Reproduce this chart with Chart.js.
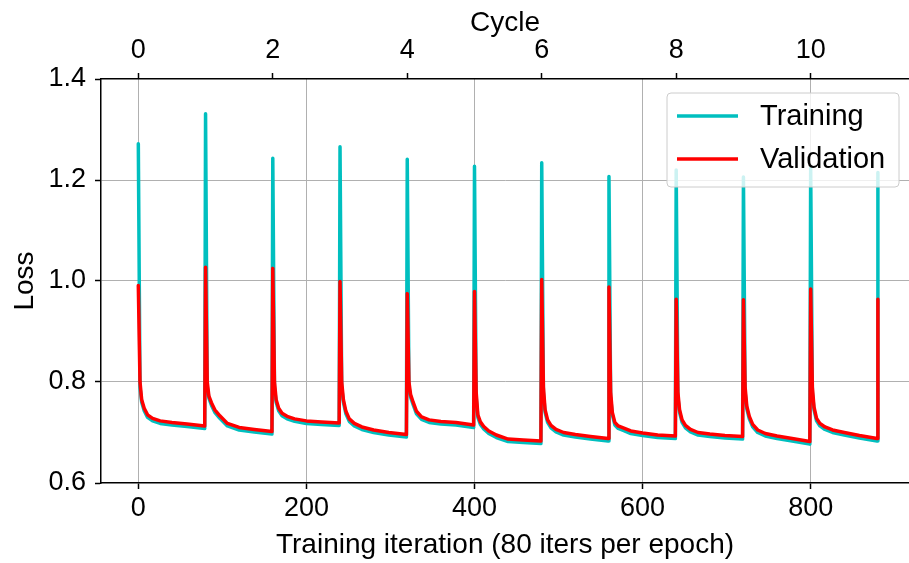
<!DOCTYPE html>
<html>
<head>
<meta charset="utf-8">
<script src="https://cdn.jsdelivr.net/npm/chart.js@4/dist/chart.umd.min.js"></script>
<style>
html,body{margin:0;padding:0;overflow:hidden;background:#fff;}
canvas{display:block;}
</style>
</head>
<body>
<canvas id="c" width="909" height="563"></canvas>
<script>
// ---- data ----
const cycleStarts = [0, 80, 160, 240, 320, 400, 480, 560, 640, 720, 800, 880];
const sampleOffsets = [0, 2, 4, 7, 11, 17, 26, 40, 58, 79];

const trainingByCycle = [
  [1.272, 0.79, 0.760, 0.743, 0.730, 0.723, 0.718, 0.715, 0.712, 0.708],
  [1.331, 0.79, 0.768, 0.754, 0.740, 0.728, 0.713, 0.705, 0.701, 0.697],
  [1.243, 0.79, 0.760, 0.743, 0.733, 0.727, 0.722, 0.718, 0.716, 0.714],
  [1.266, 0.79, 0.760, 0.737, 0.722, 0.713, 0.706, 0.700, 0.695, 0.691],
  [1.241, 0.79, 0.770, 0.755, 0.737, 0.726, 0.720, 0.717, 0.715, 0.710],
  [1.227, 0.77, 0.730, 0.716, 0.707, 0.698, 0.690, 0.682, 0.680, 0.678],
  [1.234, 0.78, 0.740, 0.720, 0.709, 0.701, 0.695, 0.691, 0.687, 0.683],
  [1.207, 0.77, 0.735, 0.715, 0.708, 0.704, 0.698, 0.694, 0.690, 0.688],
  [1.220, 0.77, 0.740, 0.720, 0.709, 0.701, 0.695, 0.692, 0.689, 0.687],
  [1.206, 0.78, 0.747, 0.727, 0.711, 0.700, 0.693, 0.688, 0.683, 0.677],
  [1.224, 0.78, 0.745, 0.723, 0.713, 0.706, 0.700, 0.695, 0.689, 0.683],
  [1.215]
];

const validationByCycle = [
  [0.991, 0.80, 0.765, 0.748, 0.735, 0.728, 0.723, 0.720, 0.717, 0.713],
  [1.027, 0.80, 0.772, 0.759, 0.745, 0.733, 0.718, 0.710, 0.706, 0.702],
  [1.025, 0.80, 0.765, 0.748, 0.738, 0.732, 0.727, 0.723, 0.721, 0.719],
  [0.999, 0.80, 0.765, 0.742, 0.727, 0.718, 0.711, 0.705, 0.700, 0.696],
  [0.975, 0.80, 0.775, 0.760, 0.742, 0.731, 0.725, 0.722, 0.720, 0.715],
  [0.979, 0.78, 0.735, 0.721, 0.712, 0.703, 0.695, 0.687, 0.685, 0.683],
  [1.003, 0.79, 0.745, 0.725, 0.714, 0.706, 0.700, 0.696, 0.692, 0.688],
  [0.988, 0.78, 0.740, 0.720, 0.713, 0.709, 0.703, 0.699, 0.695, 0.693],
  [0.964, 0.78, 0.745, 0.725, 0.714, 0.706, 0.700, 0.697, 0.694, 0.692],
  [0.963, 0.79, 0.752, 0.732, 0.716, 0.705, 0.698, 0.693, 0.688, 0.682],
  [0.984, 0.79, 0.750, 0.728, 0.718, 0.711, 0.705, 0.700, 0.694, 0.688],
  [0.964]
];

const iterationTicks = [0, 200, 400, 600, 800];
const cycleTicks = [0, 2, 4, 6, 8, 10];
const lossTicks = [0.6, 0.8, 1.0, 1.2, 1.4];
const seriesLabels = ['Training', 'Validation'];
const itersPerCycle = 80;

// ---- build point lists ----
function toPoints(byCycle) {
  const pts = [];
  byCycle.forEach((vals, c) => {
    vals.forEach((v, i) => pts.push({ x: cycleStarts[c] + sampleOffsets[i], y: v }));
  });
  return pts;
}

const FONT = "'Liberation Sans', Arial, Helvetica, sans-serif";
const X_MIN = -44.4, X_MAX = 917;

const boxLegend = {
  id: 'boxLegend',
  afterDraw(chart) {
    const ctx = chart.ctx;
    const bx = 667, by = 93, bw = 232, bh = 94, r = 4;
    ctx.save();
    ctx.beginPath();
    ctx.moveTo(bx + r, by);
    ctx.lineTo(bx + bw - r, by);
    ctx.arcTo(bx + bw, by, bx + bw, by + r, r);
    ctx.lineTo(bx + bw, by + bh - r);
    ctx.arcTo(bx + bw, by + bh, bx + bw - r, by + bh, r);
    ctx.lineTo(bx + r, by + bh);
    ctx.arcTo(bx, by + bh, bx, by + bh - r, r);
    ctx.lineTo(bx, by + r);
    ctx.arcTo(bx, by, bx + r, by, r);
    ctx.closePath();
    ctx.fillStyle = 'rgba(255,255,255,0.8)';
    ctx.fill();
    ctx.strokeStyle = '#cccccc';
    ctx.lineWidth = 1;
    ctx.stroke();
    const rows = [116, 159];
    chart.data.datasets.forEach((ds, i) => {
      const y = rows[i];
      ctx.beginPath();
      ctx.moveTo(677, y);
      ctx.lineTo(738, y);
      ctx.strokeStyle = ds.borderColor;
      ctx.lineWidth = 3.5;
      ctx.stroke();
      ctx.fillStyle = '#000';
      ctx.font = '29px ' + FONT;
      ctx.textBaseline = 'middle';
      ctx.textAlign = 'left';
      ctx.fillText(ds.label, 760, y + 1);
    });
    ctx.restore();
  }
};

new Chart(document.getElementById('c'), {
  type: 'line',
  data: {
    datasets: [
      {
        label: seriesLabels[0],
        data: toPoints(trainingByCycle),
        borderColor: '#00bfbf',
        borderWidth: 3.5,
        pointRadius: 0,
        tension: 0,
        borderJoinStyle: 'round',
        borderCapStyle: 'round',
        order: 2,
        xAxisID: 'x', yAxisID: 'y'
      },
      {
        label: seriesLabels[1],
        data: toPoints(validationByCycle),
        borderColor: '#ff0000',
        borderWidth: 3.5,
        pointRadius: 0,
        tension: 0,
        borderJoinStyle: 'round',
        borderCapStyle: 'round',
        order: 1,
        xAxisID: 'x', yAxisID: 'y'
      }
    ]
  },
  options: {
    responsive: false,
    animation: false,
    devicePixelRatio: 1,
    layout: { padding: 0 },
    plugins: { legend: { display: false }, tooltip: { enabled: false } },
    scales: {
      x: {
        type: 'linear', position: 'bottom', min: X_MIN, max: X_MAX,
        afterBuildTicks: s => { s.ticks = iterationTicks.map(v => ({ value: v })); },
        afterFit: s => { s.height = 80; },
        grid: { color: '#b0b0b0', lineWidth: 1, tickColor: '#000', tickLength: 6, tickWidth: 1.5 },
        border: { color: '#000', width: 1.5 },
        ticks: { color: '#000', font: { family: FONT, size: 27 }, padding: 3, maxRotation: 0, autoSkip: false,
                 callback: v => String(v) },
        title: { display: true, text: 'Training iteration (80 iters per epoch)', color: '#000',
                 font: { family: FONT, size: 28 }, padding: { top: 0, bottom: 1 } }
      },
      x2: {
        type: 'linear', position: 'top', min: X_MIN / itersPerCycle, max: X_MAX / itersPerCycle,
        afterBuildTicks: s => { s.ticks = cycleTicks.map(v => ({ value: v })); },
        afterFit: s => { s.height = 79; },
        grid: { drawOnChartArea: false, tickColor: '#000', tickLength: 6, tickWidth: 1.5 },
        border: { color: '#000', width: 1.5 },
        ticks: { color: '#000', font: { family: FONT, size: 27 }, padding: 6, maxRotation: 0, autoSkip: false,
                 callback: v => String(v) },
        title: { display: true, text: 'Cycle', color: '#000',
                 font: { family: FONT, size: 28 }, padding: { top: 6, bottom: 0 } }
      },
      y: {
        type: 'linear', position: 'left', min: 0.6, max: 1.4,
        afterBuildTicks: s => { s.ticks = lossTicks.map(v => ({ value: v })); },
        afterFit: s => { s.width = 101; },
        grid: {
          color: c => (c.index === 0 || c.index === lossTicks.length - 1) ? 'rgba(0,0,0,0)' : '#b0b0b0',
          lineWidth: 1, tickColor: '#000', tickLength: 6, tickWidth: 1.5
        },
        border: { color: '#000', width: 1.5 },
        ticks: { color: '#000', font: { family: FONT, size: 27 }, padding: 9, autoSkip: false,
                 callback: v => Number(v).toFixed(1) },
        title: { display: true, text: 'Loss', color: '#000',
                 font: { family: FONT, size: 28 }, padding: { top: 8, bottom: 0 } }
      }
    }
  },
  plugins: [boxLegend]
});
</script>
</body>
</html>
